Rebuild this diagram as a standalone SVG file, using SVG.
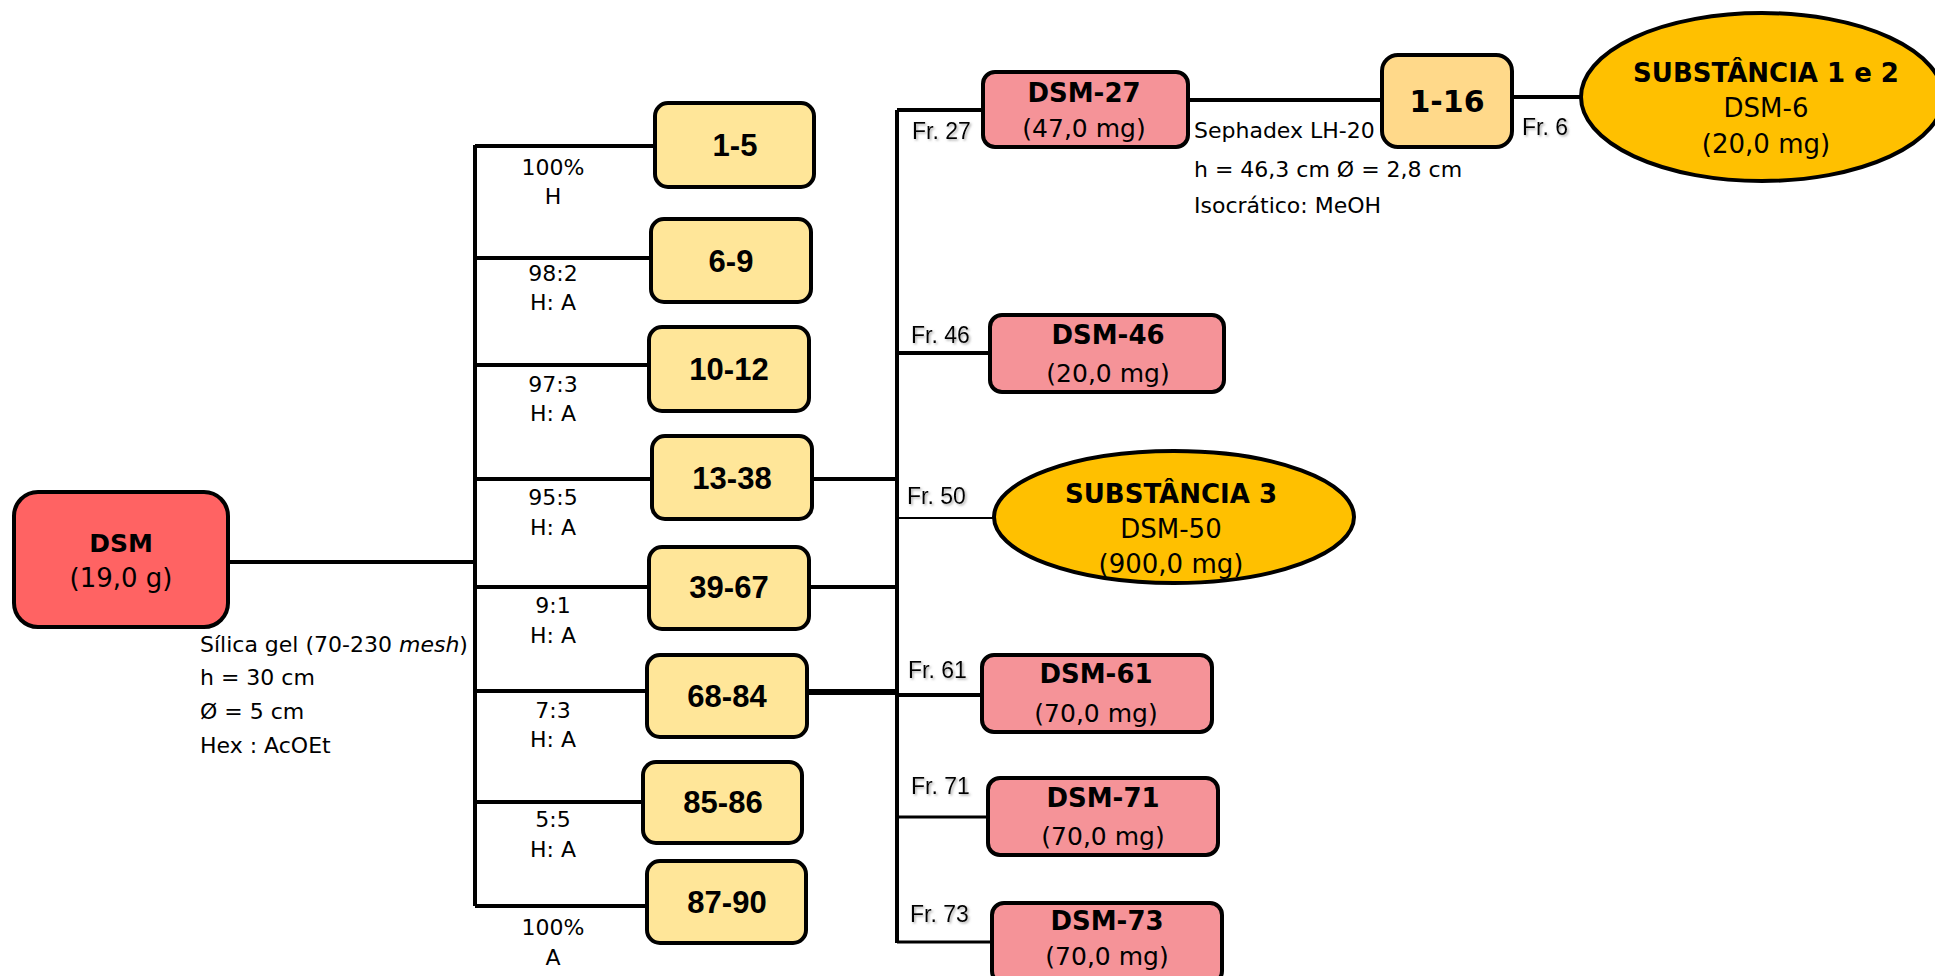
<svg xmlns="http://www.w3.org/2000/svg" width="1935" height="976" viewBox="0 0 1935 976">
<style>
.ln{fill:none;stroke:#000;stroke-width:4}
.box{stroke:#000;stroke-width:4}
.yel{fill:#FFE699}
.pink{fill:#F59398}
.red{fill:#FF6363}
.org{fill:#FFD98A}
.gold{fill:#FFC000}
.num{font-family:"Liberation Sans",Arial,sans-serif;font-weight:bold;font-size:31px;text-anchor:middle}
.vb{font-family:"DejaVu Sans",Verdana,sans-serif;font-weight:bold;font-size:26px;text-anchor:middle}
.vr{font-family:"DejaVu Sans",Verdana,sans-serif;font-size:25px;text-anchor:middle}
.lab{font-family:"DejaVu Sans",Tahoma,sans-serif;font-size:22px;text-anchor:middle}
.ann{font-family:"DejaVu Sans",Tahoma,sans-serif;font-size:22px}
.fr{font-family:"Liberation Sans",Arial,sans-serif;font-size:23px;filter:url(#sh)}
</style>
<defs>
<filter id="sh" x="-10%" y="-20%" width="130%" height="150%">
<feDropShadow dx="1.5" dy="1.5" stdDeviation="0.8" flood-color="#777" flood-opacity="0.6"/>
</filter>
</defs>
<rect width="1935" height="976" fill="#fff"/>

<g id="connectors">
<path class="ln" d="M228 562H475M475 145V906"/>
<path class="ln" d="M475 146H655M475 258H651M475 365H649M475 479H652M475 587H649M475 691H647M475 802H643M475 906H647"/>
<path class="ln" d="M812 479H897M809 587H897"/>
<path class="ln" style="stroke-width:6" d="M807 692H897"/>
<path class="ln" d="M897 110V943M897 110H983M1188 100H1382M1512 97H1582"/>
<path class="ln" d="M897 353H990M897 695H982"/>
<path class="ln" style="stroke-width:2" d="M897 518H993"/>
<path class="ln" style="stroke-width:3" d="M897 817H988M897 942H992"/>
</g>

<g id="node-dsm">
<rect class="box red" x="14" y="492" width="214" height="135" rx="24"/>
<text class="vb" x="121" y="552" style="font-size:25px">DSM</text>
<text class="vr" x="121" y="587" style="font-size:26px">(19,0 g)</text>
</g>
<g id="note-silica">
<text class="ann" x="200" y="652">Sílica gel (70-230 <tspan font-style="italic">mesh</tspan>)</text>
<text class="ann" x="200" y="685">h = 30 cm</text>
<text class="ann" x="200" y="719">Ø = 5 cm</text>
<text class="ann" x="200" y="753">Hex : AcOEt</text>
</g>

<g id="labels-eluent">
<text class="lab" x="553" y="175">100%</text><text class="lab" x="553" y="204">H</text>
<text class="lab" x="553" y="281">98:2</text><text class="lab" x="553" y="310">H: A</text>
<text class="lab" x="553" y="392">97:3</text><text class="lab" x="553" y="421">H: A</text>
<text class="lab" x="553" y="505">95:5</text><text class="lab" x="553" y="535">H: A</text>
<text class="lab" x="553" y="613">9:1</text><text class="lab" x="553" y="643">H: A</text>
<text class="lab" x="553" y="718">7:3</text><text class="lab" x="553" y="747">H: A</text>
<text class="lab" x="553" y="827">5:5</text><text class="lab" x="553" y="857">H: A</text>
<text class="lab" x="553" y="935">100%</text><text class="lab" x="553" y="965">A</text>
</g>

<g id="node-1-5"><rect class="box yel" x="655" y="103" width="159" height="84" rx="13"/><text class="num" x="735" y="156">1-5</text></g>
<g id="node-6-9"><rect class="box yel" x="651" y="219" width="160" height="83" rx="13"/><text class="num" x="731" y="272">6-9</text></g>
<g id="node-10-12"><rect class="box yel" x="649" y="327" width="160" height="84" rx="13"/><text class="num" x="729" y="380">10-12</text></g>
<g id="node-13-38"><rect class="box yel" x="652" y="436" width="160" height="83" rx="13"/><text class="num" x="732" y="489">13-38</text></g>
<g id="node-39-67"><rect class="box yel" x="649" y="547" width="160" height="82" rx="13"/><text class="num" x="729" y="598">39-67</text></g>
<g id="node-68-84"><rect class="box yel" x="647" y="655" width="160" height="82" rx="13"/><text class="num" x="727" y="707">68-84</text></g>
<g id="node-85-86"><rect class="box yel" x="643" y="762" width="159" height="81" rx="13"/><text class="num" x="723" y="813">85-86</text></g>
<g id="node-87-90"><rect class="box yel" x="647" y="861" width="159" height="82" rx="13"/><text class="num" x="727" y="913">87-90</text></g>

<g id="node-dsm-27">
<rect class="box pink" x="983" y="72" width="205" height="75" rx="12"/>
<text class="vb" x="1084" y="102">DSM-27</text>
<text class="vr" x="1084" y="137">(47,0 mg)</text>
</g>
<text class="fr" x="912" y="139">Fr. 27</text>
<g id="note-sephadex">
<text class="ann" x="1194" y="138">Sephadex LH-20</text>
<text class="ann" x="1194" y="177">h = 46,3 cm Ø = 2,8 cm</text>
<text class="ann" x="1194" y="213">Isocrático: MeOH</text>
</g>

<g id="node-1-16">
<rect class="box org" x="1382" y="55" width="130" height="92" rx="16"/>
<text class="vb" x="1447" y="112" style="font-size:30px">1-16</text>
</g>
<text class="fr" x="1522" y="135">Fr. 6</text>

<g id="node-sub12">
<ellipse class="box gold" cx="1762" cy="97" rx="181" ry="84"/>
<text class="vb" x="1766" y="82">SUBSTÂNCIA 1 e 2</text>
<text class="vr" x="1766" y="117" style="font-size:26px">DSM-6</text>
<text class="vr" x="1766" y="153" style="font-size:26px">(20,0 mg)</text>
</g>

<g id="node-dsm-46">
<rect class="box pink" x="990" y="315" width="234" height="77" rx="12"/>
<text class="vb" x="1108" y="344">DSM-46</text>
<text class="vr" x="1108" y="382">(20,0 mg)</text>
</g>
<text class="fr" x="911" y="343">Fr. 46</text>

<g id="node-sub3">
<ellipse class="box gold" cx="1174" cy="517" rx="180" ry="66"/>
<text class="vb" x="1171" y="503">SUBSTÂNCIA 3</text>
<text class="vr" x="1171" y="538" style="font-size:26px">DSM-50</text>
<text class="vr" x="1171" y="573" style="font-size:26px">(900,0 mg)</text>
</g>
<text class="fr" x="907" y="504">Fr. 50</text>

<g id="node-dsm-61">
<rect class="box pink" x="982" y="655" width="230" height="77" rx="12"/>
<text class="vb" x="1096" y="683">DSM-61</text>
<text class="vr" x="1096" y="722">(70,0 mg)</text>
</g>
<text class="fr" x="908" y="678">Fr. 61</text>

<g id="node-dsm-71">
<rect class="box pink" x="988" y="778" width="230" height="77" rx="12"/>
<text class="vb" x="1103" y="807">DSM-71</text>
<text class="vr" x="1103" y="845">(70,0 mg)</text>
</g>
<text class="fr" x="911" y="794">Fr. 71</text>

<g id="node-dsm-73">
<rect class="box pink" x="992" y="903" width="230" height="80" rx="12"/>
<text class="vb" x="1107" y="930">DSM-73</text>
<text class="vr" x="1107" y="965">(70,0 mg)</text>
</g>
<text class="fr" x="910" y="922">Fr. 73</text>
</svg>
